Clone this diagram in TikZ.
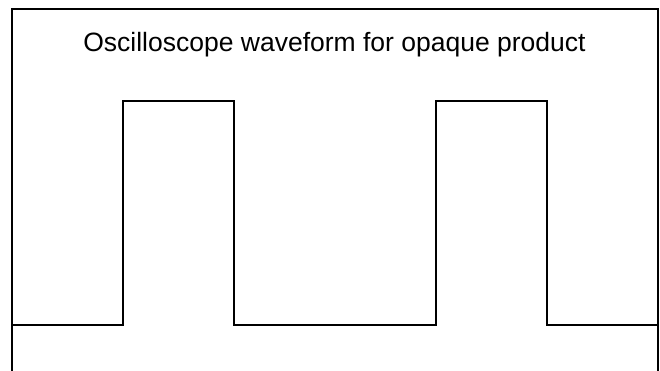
\documentclass[tikz,border=0pt]{standalone}
\usepackage{fontspec}
\setmainfont{Liberation Sans}
\begin{document}
\begin{tikzpicture}[x=1pt,y=-1pt,
  frame/.style={line width=2pt, line cap=rect},
  wave/.style={line width=2pt, line join=miter},
  title/.style={font=\fontsize{26.5}{30}\selectfont, anchor=base, inner sep=0pt}]
\useasboundingbox (0,0) rectangle (660,370);
\draw[frame] (12,372) -- (12,9) -- (658,9) -- (658,372);
\node[title] (t) at (334.5,51) {Oscilloscope waveform for opaque product};
\draw[wave] (12,325) -- (123,325) -- (123,101) -- (234,101) -- (234,325)
  -- (436,325) -- (436,101) -- (547,101) -- (547,325) -- (658,325);
\end{tikzpicture}
\end{document}
